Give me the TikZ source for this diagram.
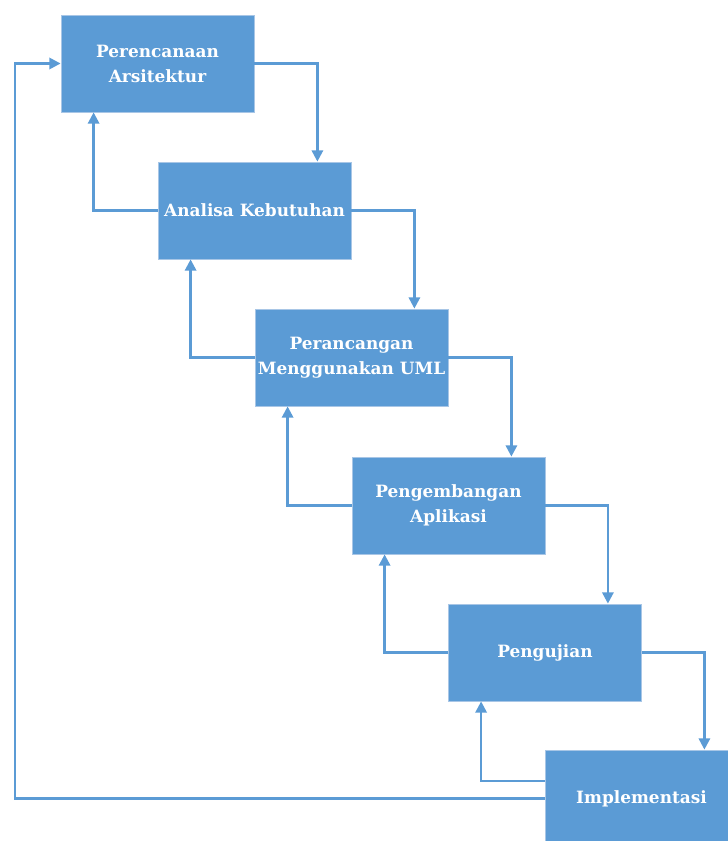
\documentclass[tikz,border=0pt]{standalone}
\usepackage{fontspec}
\setmainfont{DejaVu Serif}
\definecolor{tahap}{HTML}{5B9BD5}
\definecolor{tepi}{HTML}{A8C6E6}
\usetikzlibrary{arrows.meta, positioning}

\begin{document}
\begin{tikzpicture}[
  x=0.75pt, y=-0.75pt,
  stage/.style={draw=tepi, fill=tahap, line width=0.6pt,
                minimum width=144.75pt, minimum height=72.75pt,
                align=center, inner sep=0pt, text=white,
                font=\fontsize{12.7}{18.75}\selectfont\bfseries},
  flow/.style={draw=tahap, line width=1.8pt,
               -{Triangle[length=8.5pt,width=8.5pt]}},
]
\useasboundingbox (0,0) rectangle (727,841);
\node[stage] (perencanaan) at (157.5,63.5) {Perencanaan\\Arsitektur};
\node[stage] (analisa) at (254.5,210.5) {Analisa Kebutuhan};
\node[stage] (perancangan) at (351.5,357.5) {Perancangan\\Menggunakan UML};
\node[stage] (pengembangan) at (448.5,505.5) {Pengembangan\\Aplikasi};
\node[stage] (pengujian) at (545,652.5) {Pengujian};
\node[stage] (implementasi) at (641.5,798.5) {Implementasi};
\coordinate (kembali) at (15,63.5);

% alur maju
\draw[flow] (perencanaan.east) -| ([xshift=-25.5pt]analisa.north east);
\draw[flow] (analisa.east) -| ([xshift=-25.5pt]perancangan.north east);
\draw[flow] (perancangan.east) -| ([xshift=-25.5pt]pengembangan.north east);
\draw[flow] (pengembangan.east) -| ([xshift=-25.5pt]pengujian.north east);
\draw[flow] (pengujian.east) -| ([xshift=-25.5pt]implementasi.north east);

% alur balik
\draw[flow] (analisa.west) -| ([xshift=24.75pt]perencanaan.south west);
\draw[flow] (perancangan.west) -| ([xshift=24.75pt]analisa.south west);
\draw[flow] (pengembangan.west) -| ([xshift=24.75pt]perancangan.south west);
\draw[flow] (pengujian.west) -| ([xshift=24.75pt]pengembangan.south west);
\draw[flow] ([yshift=13pt]implementasi.west) -| ([xshift=24.75pt]pengujian.south west);
\draw[flow] (implementasi.west) -| (kembali) -- (perencanaan.west);
\end{tikzpicture}
\end{document}
